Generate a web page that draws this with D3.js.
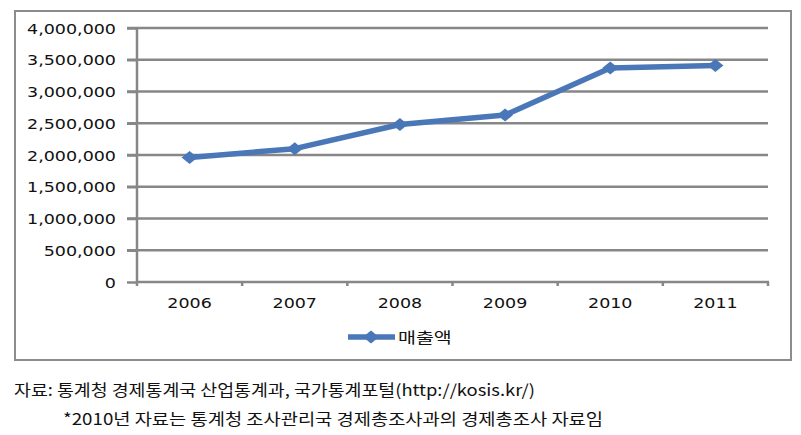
<!DOCTYPE html>
<html>
<head>
<meta charset="utf-8">
<script src="https://cdn.jsdelivr.net/npm/d3@7"></script>
<style>
  html, body { margin: 0; padding: 0; background: #fff; }
  svg { display: block; }
</style>
</head>
<body>
<svg id="chart" width="801" height="435"></svg>
<script>
const categories = ["2006", "2007", "2008", "2009", "2010", "2011"];
const salesValues = [1960000, 2100000, 2480000, 2630000, 3370000, 3410000];
const yTicks = [0, 500000, 1000000, 1500000, 2000000, 2500000, 3000000, 3500000, 4000000];
const seriesName = "매출액";
const noteLines = [
  "자료: 통계청 경제통계국 산업통계과, 국가통계포털(http://kosis.kr/)",
  "*2010년 자료는 통계청 조사관리국 경제총조사과의 경제총조사 자료임"
];

const svg = d3.select("#chart");
const lineColor = "#4a77b8";
const gridColor = "#878787";
const sx = 1.25;

// outer frame
svg.append("rect").attr("x", 15).attr("y", 11).attr("width", 776).attr("height", 349)
  .attr("fill", "#fff").attr("stroke", "#8c8c8c").attr("stroke-width", 2);

const x = d3.scaleBand().domain(categories).range([137, 768]).padding(0);
const y = d3.scaleLinear().domain([0, 4000000]).range([282, 28]);

// gridlines
svg.append("g").selectAll("line").data(yTicks.filter(d => d > 0)).join("line")
  .attr("x1", 127).attr("x2", 768)
  .attr("y1", d => y(d)).attr("y2", d => y(d))
  .attr("stroke", gridColor).attr("stroke-width", 2.5);

// y axis ticks via d3 axis
const yAxis = svg.append("g").attr("transform", "translate(137,0)")
  .call(d3.axisLeft(y).tickValues(yTicks).tickSize(10).tickPadding(0).tickFormat(d3.format(",")));
yAxis.select(".domain").remove();
yAxis.selectAll(".tick line").attr("stroke", gridColor).attr("stroke-width", 2.5);
yAxis.selectAll(".tick text").remove();
svg.append("line").attr("x1", 137).attr("x2", 137).attr("y1", y(4000000) - 1).attr("y2", y(0))
  .attr("stroke", gridColor).attr("stroke-width", 2.5);

// y labels (horizontally stretched like the source)
const fmt = d3.format(",");
svg.append("g").selectAll("text").data(yTicks).join("text")
  .attr("transform", d => `translate(116,${y(d) + 5.5}) scale(${sx},1)`)
  .attr("text-anchor", "end")
  .attr("font-family", "DejaVu Sans")
  .attr("font-size", 14)
  .attr("fill", "#111")
  .text(d => fmt(d));

// x axis
svg.append("line").attr("x1", 137).attr("x2", 769).attr("y1", y(0)).attr("y2", y(0))
  .attr("stroke", gridColor).attr("stroke-width", 2.5);
const boundaries = categories.map(c => x(c)).concat([x(categories[categories.length - 1]) + x.bandwidth()]);
svg.append("g").selectAll("line").data(boundaries).join("line")
  .attr("x1", d => d).attr("x2", d => d)
  .attr("y1", y(0)).attr("y2", y(0) + 4)
  .attr("stroke", gridColor).attr("stroke-width", 2.5);

svg.append("g").selectAll("text").data(categories).join("text")
  .attr("transform", d => `translate(${x(d) + x.bandwidth() / 2},${308}) scale(${sx},1)`)
  .attr("text-anchor", "middle")
  .attr("font-family", "DejaVu Sans")
  .attr("font-size", 14)
  .attr("fill", "#111")
  .text(d => d);

// series line
const pts = categories.map((c, i) => ({ c, v: salesValues[i] }));
const line = d3.line().x(d => x(d.c) + x.bandwidth() / 2).y(d => y(d.v));
svg.append("path").datum(pts).attr("d", line)
  .attr("fill", "none").attr("stroke", lineColor).attr("stroke-width", 5.5)
  .attr("stroke-linejoin", "round");

const diamond = (cx, cy, w, h) => `M${cx - w},${cy}L${cx},${cy - h}L${cx + w},${cy}L${cx},${cy + h}Z`;
svg.append("g").selectAll("path").data(pts).join("path")
  .attr("d", d => diamond(x(d.c) + x.bandwidth() / 2, y(d.v), 8, 6.5))
  .attr("fill", lineColor);

// legend
svg.append("line").attr("x1", 348).attr("x2", 395).attr("y1", 337).attr("y2", 337)
  .attr("stroke", lineColor).attr("stroke-width", 5.5);
svg.append("path").attr("d", diamond(371, 337, 8, 6.5)).attr("fill", lineColor);
svg.append("text")
  .attr("transform", `translate(398,343) scale(1.3,1)`)
  .attr("font-family", "Noto Sans CJK KR")
  .attr("font-size", 15)
  .attr("fill", "#111")
  .text(seriesName);

// footnotes
const noteX = [14, 63];
const noteW = [521, 540];
const noteY = [396, 425];
svg.append("g").selectAll("text").data(noteLines).join("text")
  .attr("x", (d, i) => noteX[i]).attr("y", (d, i) => noteY[i])
  .attr("font-family", "Noto Sans CJK KR")
  .attr("font-size", 16)
  .attr("fill", "#111")
  .attr("textLength", (d, i) => noteW[i])
  .attr("lengthAdjust", "spacingAndGlyphs")
  .text(d => d);
</script>
</body>
</html>
